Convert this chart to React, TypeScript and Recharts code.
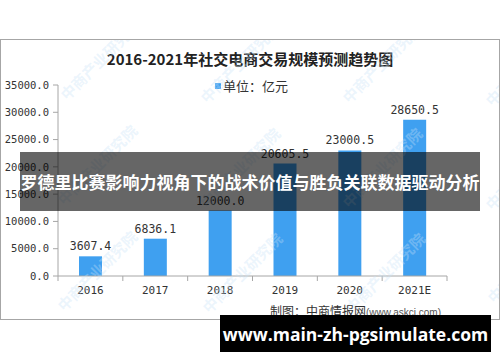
import { BarChart, Bar, XAxis, YAxis, LabelList } from 'recharts'

const years = ['2016', '2017', '2018', '2019', '2020', '2021E']
const tradeScale = [3607.4, 6836.1, 12000.0, 20605.5, 23000.5, 28650.5]
const yTicks = [0, 5000, 10000, 15000, 20000, 25000, 30000, 35000]

const chartData = years.map((year, i) => ({ year, value: tradeScale[i] }))

const BAR_COLOR = '#3FA0F0'
const AXIS_COLOR = '#A6A6A6'
const MONO = '"DejaVu Sans Mono", "Liberation Mono", monospace'
const CJK = '"Noto Sans CJK SC", "Noto Sans", sans-serif'

// watermark anchor points (lower-left of each rotated label)
const marks = [
  [63, 97], [203, 100], [345, 100], [488, 103],
  [60, 202], [203, 205], [345, 205], [488, 207],
  [60, 308], [205, 310], [348, 310], [490, 300],
]

const HALF_BAND = (447 - 58) / 12

function XTick(props: any) {
  const { x, y, payload, index } = props
  return (
    <g>
      <line x1={x - HALF_BAND} x2={x - HALF_BAND} y1={y} y2={y + 5} stroke={AXIS_COLOR} />
      {index === years.length - 1 && (
        <line x1={x + HALF_BAND} x2={x + HALF_BAND} y1={y} y2={y + 5} stroke={AXIS_COLOR} />
      )}
      <text x={x} y={y + 18} textAnchor="middle" fontFamily={MONO} fontSize={11} fill="#333">
        {payload.value}
      </text>
    </g>
  )
}

export default function App() {
  return (
    <div style={{ position: 'absolute', left: 0, top: 0, width: 500, height: 362, background: '#fff', overflow: 'hidden' }}>
      <div
        style={{
          position: 'absolute', left: 0, top: 39, width: 500, height: 281,
          boxSizing: 'border-box', border: `1px solid ${AXIS_COLOR}`,
        }}
      />
      <div
        style={{
          position: 'absolute', left: 0, top: 48, width: 500, textAlign: 'center',
          fontFamily: CJK, fontWeight: 'bold', fontSize: 15, color: '#222', lineHeight: '22px',
        }}
      >
        2016-2021年社交电商交易规模预测趋势图
      </div>
      <div
        style={{
          position: 'absolute', left: 215, top: 77, display: 'flex', alignItems: 'center',
          fontFamily: CJK, fontSize: 13, color: '#333', lineHeight: '18px',
        }}
      >
        <span style={{ width: 6, height: 6, background: BAR_COLOR, marginRight: 2 }} />
        单位：亿元
      </div>

      <BarChart
        width={500}
        height={362}
        data={chartData}
        margin={{ top: 85, right: 53, bottom: 56, left: 0 }}
        style={{ position: 'absolute', left: 0, top: 0 }}
      >
        <XAxis
          dataKey="year"
          height={30}
          stroke={AXIS_COLOR}
          tickLine={false}
          tickSize={0}
          tickMargin={0}
          tick={<XTick />}
          interval={0}
        />
        <YAxis
          width={58}
          domain={[0, 35000]}
          ticks={yTicks}
          interval={0}
          stroke={AXIS_COLOR}
          tickSize={5}
          tickMargin={4}
          tick={{ fontFamily: MONO, fontSize: 10.5, fill: '#333' }}
          tickFormatter={(v: number) => v.toFixed(1)}
        />
        <Bar dataKey="value" fill={BAR_COLOR} barSize={23} isAnimationActive={false}>
          <LabelList
            dataKey="value"
            position="top"
            offset={6}
            formatter={(v: any) => Number(v).toFixed(1)}
            style={{ fontFamily: MONO, fontSize: 11.5, fill: '#333' }}
          />
        </Bar>
      </BarChart>

      {/* watermark layer, clipped to the frame */}
      <div style={{ position: 'absolute', left: 1, top: 40, width: 498, height: 279, overflow: 'hidden', pointerEvents: 'none' }}>
        {marks.map(([mx, my], i) => (
          <span
            key={i}
            style={{
              position: 'absolute', left: mx - 1, top: my - 40 - 9, whiteSpace: 'nowrap',
              transform: 'rotate(-45deg)', transformOrigin: '0 50%',
              fontFamily: CJK, fontWeight: 'bold', fontSize: 15, lineHeight: '18px',
              color: 'rgba(200,226,247,0.35)',
            }}
          >
            中商产业研究院
          </span>
        ))}
      </div>

      <div
        style={{
          position: 'absolute', left: 270, top: 303, whiteSpace: 'nowrap',
          fontFamily: CJK, fontSize: 12, color: '#333', lineHeight: '16px',
        }}
      >
        制图：中商情报网<span style={{ fontSize: 10, color: '#555', fontFamily: '"Liberation Sans", sans-serif' }}>(www.askci.com)</span>
      </div>

      <div
        style={{
          position: 'absolute', left: 20, top: 152, width: 460, height: 59,
          background: 'rgba(0,0,0,0.6)', color: '#fff', display: 'flex',
          alignItems: 'center', justifyContent: 'center',
          fontFamily: CJK, fontWeight: 'bold', fontSize: 17, whiteSpace: 'nowrap',
        }}
      >
        罗德里比赛影响力视角下的战术价值与胜负关联数据驱动分析
      </div>

      <div
        style={{
          position: 'absolute', left: 220, top: 315, width: 271, height: 37,
          background: '#000', color: '#fff', display: 'flex',
          alignItems: 'center', justifyContent: 'center',
          fontFamily: '"Open Sans", "Noto Sans", sans-serif', fontWeight: 'bold', fontSize: 17.5, whiteSpace: 'nowrap',
        }}
      >
        www.main-zh-pgsimulate.com
      </div>
    </div>
  )
}
